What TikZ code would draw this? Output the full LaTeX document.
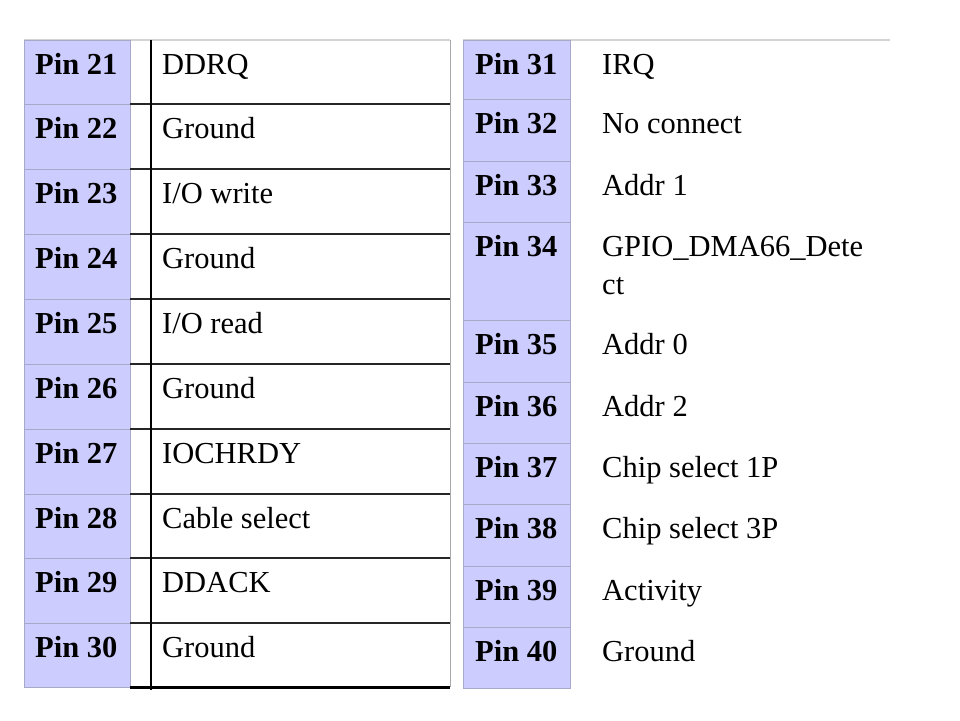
\documentclass[tikz,border=0pt]{standalone}
\usepackage{fontspec}
\setmainfont{Liberation Serif}
\definecolor{pinfill}{HTML}{CCCCFF}
\definecolor{pinsep}{HTML}{A8A8C8}
\definecolor{toprule}{HTML}{D4D4D4}
\definecolor{siderule}{HTML}{A8A8A8}
\begin{document}
\begin{tikzpicture}[x=1pt,y=-1pt,
  pinlabel/.style={anchor=base west, inner sep=0pt, font=\fontsize{30.5}{38}\selectfont\bfseries},
  vallabel/.style={anchor=base west, inner sep=0pt, font=\fontsize{30.5}{38}\selectfont, align=left},
  pincol/.style={fill=pinfill, draw=pinsep, line width=1pt},
  pinrule/.style={draw=pinsep, line width=1pt},
  cellrule/.style={draw=black!85, line width=1.2pt},
  lightrule/.style={draw=toprule, line width=1.5pt}]
\useasboundingbox (0,0) rectangle (960,720);
\fill[white] (0,0) rectangle (960,720);

% ---------- left table ----------
\draw[lightrule] (24,40) -- (450,40);
\draw[pincol] (24,40) rectangle (130,687);
\foreach \y in {104,169,234,299,364,429,494,558,623}
  \draw[pinrule] (24,\y) -- (130,\y);
\foreach \y in {104,169,234,299,364,429,494,558,623}
  \draw[cellrule] (130,\y) -- (450,\y);
\draw[siderule, line width=1pt] (450,40) -- (450,687);
\draw[black, line width=1.3pt] (151,40) -- (151,690);
\draw[black, line width=3pt] (130,687) -- (450,687);

\foreach \t/\n/\v in {40/21/DDRQ, 104/22/Ground, 169/23/{I/O write}, 234/24/Ground, 299/25/{I/O read}, 364/26/Ground, 429/27/IOCHRDY, 494/28/{Cable select}, 558/29/DDACK, 623/30/Ground}{
  \node[pinlabel] (pin\n) at (35,\t+34) {Pin \n};
  \node[vallabel] (val\n) at (162,\t+34) {\v};
}

% ---------- right table ----------
\draw[lightrule] (463,40) -- (890,40);
\draw[pincol] (463,40) rectangle (570,688);
\foreach \y in {99,161,222,320,382,443,504,566,627}
  \draw[pinrule] (463,\y) -- (570,\y);

\foreach \t/\n/\v in {40/31/IRQ, 99/32/{No connect}, 161/33/{Addr 1}, 320/35/{Addr 0}, 382/36/{Addr 2}, 443/37/{Chip select 1P}, 504/38/{Chip select 3P}, 566/39/Activity, 627/40/Ground}{
  \node[pinlabel] (pin\n) at (475,\t+34) {Pin \n};
  \node[vallabel] (val\n) at (602,\t+34) {\v};
}
\node[pinlabel] (pin34) at (475,256) {Pin 34};
\node[vallabel] (val34) at (602,294) {GPIO\_DMA66\_Dete\\ct};
\end{tikzpicture}
\end{document}
